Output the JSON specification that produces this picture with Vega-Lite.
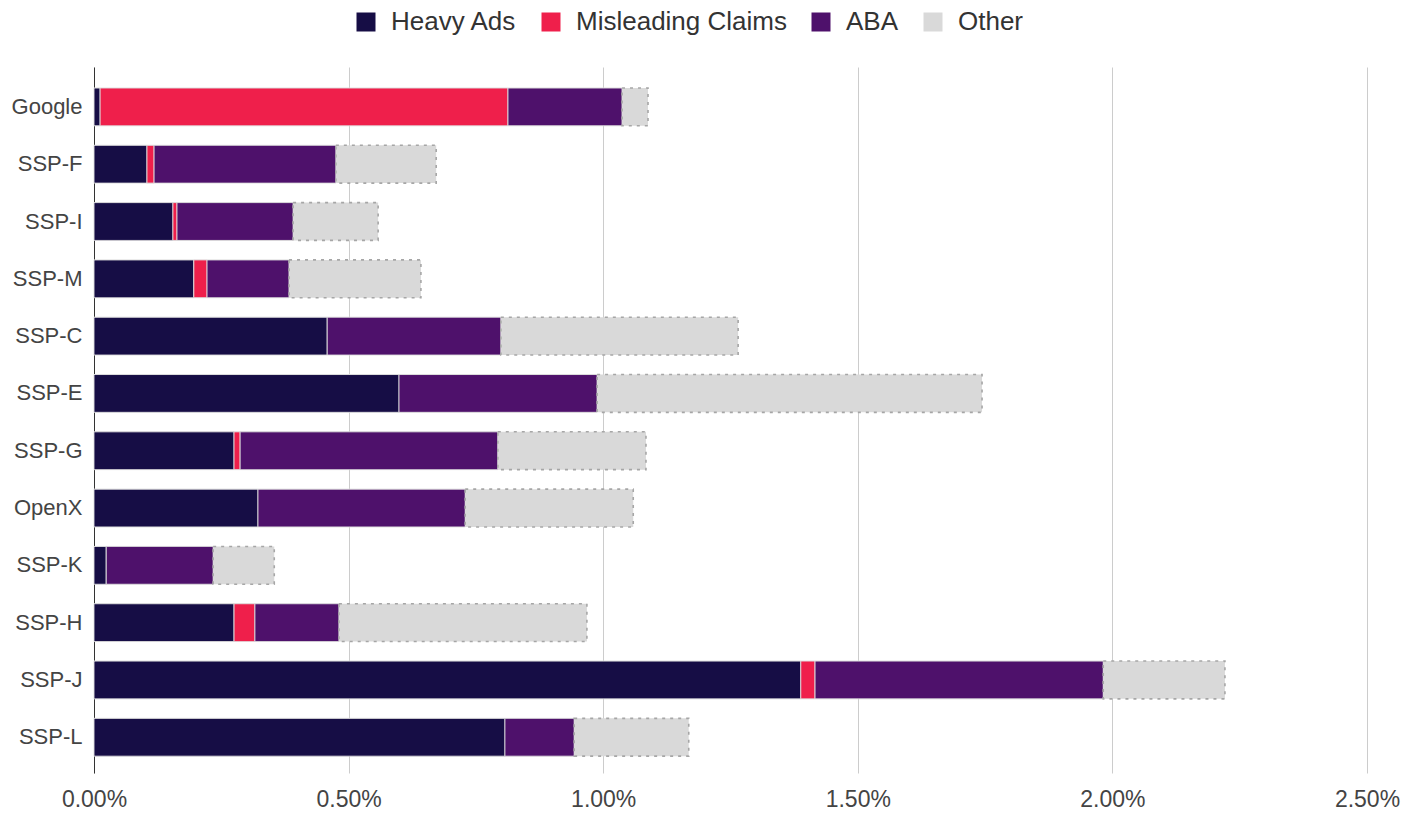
{
  "$schema": "https://vega.github.io/schema/vega-lite/v6.json",
  "width": 1273,
  "height": 706,
  "autosize": {"type": "none"},
  "padding": {"left": 94, "top": 67, "right": 52, "bottom": 40},
  "background": "white",
  "config": {
    "font": "Liberation Sans",
    "view": {"stroke": null}
  },
  "data": {
    "values": [
      {"ssp": "Google", "category": "Heavy Ads", "idx": 1, "value": 0.012},
      {"ssp": "Google", "category": "Misleading Claims", "idx": 2, "value": 0.801},
      {"ssp": "Google", "category": "ABA", "idx": 3, "value": 0.224},
      {"ssp": "Google", "category": "Other", "idx": 4, "value": 0.051},
      {"ssp": "SSP-F", "category": "Heavy Ads", "idx": 1, "value": 0.104},
      {"ssp": "SSP-F", "category": "Misleading Claims", "idx": 2, "value": 0.014},
      {"ssp": "SSP-F", "category": "ABA", "idx": 3, "value": 0.357},
      {"ssp": "SSP-F", "category": "Other", "idx": 4, "value": 0.197},
      {"ssp": "SSP-I", "category": "Heavy Ads", "idx": 1, "value": 0.155},
      {"ssp": "SSP-I", "category": "Misleading Claims", "idx": 2, "value": 0.008},
      {"ssp": "SSP-I", "category": "ABA", "idx": 3, "value": 0.228},
      {"ssp": "SSP-I", "category": "Other", "idx": 4, "value": 0.167},
      {"ssp": "SSP-M", "category": "Heavy Ads", "idx": 1, "value": 0.196},
      {"ssp": "SSP-M", "category": "Misleading Claims", "idx": 2, "value": 0.026},
      {"ssp": "SSP-M", "category": "ABA", "idx": 3, "value": 0.161},
      {"ssp": "SSP-M", "category": "Other", "idx": 4, "value": 0.259},
      {"ssp": "SSP-C", "category": "Heavy Ads", "idx": 1, "value": 0.458},
      {"ssp": "SSP-C", "category": "ABA", "idx": 3, "value": 0.341},
      {"ssp": "SSP-C", "category": "Other", "idx": 4, "value": 0.466},
      {"ssp": "SSP-E", "category": "Heavy Ads", "idx": 1, "value": 0.599},
      {"ssp": "SSP-E", "category": "ABA", "idx": 3, "value": 0.389},
      {"ssp": "SSP-E", "category": "Other", "idx": 4, "value": 0.756},
      {"ssp": "SSP-G", "category": "Heavy Ads", "idx": 1, "value": 0.275},
      {"ssp": "SSP-G", "category": "Misleading Claims", "idx": 2, "value": 0.012},
      {"ssp": "SSP-G", "category": "ABA", "idx": 3, "value": 0.506},
      {"ssp": "SSP-G", "category": "Other", "idx": 4, "value": 0.291},
      {"ssp": "OpenX", "category": "Heavy Ads", "idx": 1, "value": 0.322},
      {"ssp": "OpenX", "category": "ABA", "idx": 3, "value": 0.407},
      {"ssp": "OpenX", "category": "Other", "idx": 4, "value": 0.330},
      {"ssp": "SSP-K", "category": "Heavy Ads", "idx": 1, "value": 0.024},
      {"ssp": "SSP-K", "category": "ABA", "idx": 3, "value": 0.210},
      {"ssp": "SSP-K", "category": "Other", "idx": 4, "value": 0.120},
      {"ssp": "SSP-H", "category": "Heavy Ads", "idx": 1, "value": 0.275},
      {"ssp": "SSP-H", "category": "Misleading Claims", "idx": 2, "value": 0.041},
      {"ssp": "SSP-H", "category": "ABA", "idx": 3, "value": 0.165},
      {"ssp": "SSP-H", "category": "Other", "idx": 4, "value": 0.487},
      {"ssp": "SSP-J", "category": "Heavy Ads", "idx": 1, "value": 1.388},
      {"ssp": "SSP-J", "category": "Misleading Claims", "idx": 2, "value": 0.028},
      {"ssp": "SSP-J", "category": "ABA", "idx": 3, "value": 0.566},
      {"ssp": "SSP-J", "category": "Other", "idx": 4, "value": 0.239},
      {"ssp": "SSP-L", "category": "Heavy Ads", "idx": 1, "value": 0.807},
      {"ssp": "SSP-L", "category": "ABA", "idx": 3, "value": 0.136},
      {"ssp": "SSP-L", "category": "Other", "idx": 4, "value": 0.225}
    ]
  },
  "mark": {"type": "bar"},
  "encoding": {
    "y": {
      "field": "ssp",
      "type": "nominal",
      "sort": ["Google", "SSP-F", "SSP-I", "SSP-M", "SSP-C", "SSP-E", "SSP-G", "OpenX", "SSP-K", "SSP-H", "SSP-J", "SSP-L"],
      "scale": {"paddingInner": 0.34, "paddingOuter": 0.33, "align": 0.555},
      "axis": {
        "title": null,
        "ticks": false,
        "domain": true,
        "domainColor": "#333333",
        "domainWidth": 1,
        "labelFontSize": 22,
        "labelColor": "#444444",
        "labelPadding": 12,
        "grid": false
      }
    },
    "x": {
      "field": "value",
      "type": "quantitative",
      "stack": "zero",
      "scale": {"domain": [0, 2.5], "nice": false},
      "axis": {
        "title": null,
        "values": [0, 0.5, 1, 1.5, 2, 2.5],
        "labelExpr": "format(datum.value, '.2f') + '%'",
        "ticks": false,
        "domain": false,
        "grid": true,
        "gridColor": "#cccccc",
        "gridWidth": 1,
        "labelFontSize": 23,
        "labelColor": "#444444",
        "labelPadding": 15,
        "labelFlush": false
      }
    },
    "order": {"field": "idx", "type": "quantitative"},
    "color": {
      "field": "category",
      "type": "nominal",
      "scale": {
        "domain": ["Heavy Ads", "Misleading Claims", "ABA", "Other"],
        "range": ["#160d45", "#ef1f4b", "#4e116b", "#d9d9d9"]
      },
      "legend": {
        "title": null,
        "orient": "none",
        "direction": "horizontal",
        "columns": 4,
        "legendX": 259,
        "legendY": -58,
        "symbolType": "square",
        "symbolSize": 361,
        "symbolStrokeWidth": 0,
        "labelFontSize": 26,
        "labelColor": "#333333",
        "labelOffset": 12,
        "columnPadding": 21,
        "labelLimit": 400
      }
    },
    "stroke": {
      "condition": {"test": "datum.category === 'Other'", "value": "#a6a6a6"},
      "value": "#dddddd"
    },
    "strokeWidth": {
      "condition": {"test": "datum.category === 'Other'", "value": 1.6},
      "value": 1
    },
    "strokeDash": {
      "condition": {"test": "datum.category === 'Other'", "value": [3, 5]},
      "value": [1, 0]
    }
  }
}
